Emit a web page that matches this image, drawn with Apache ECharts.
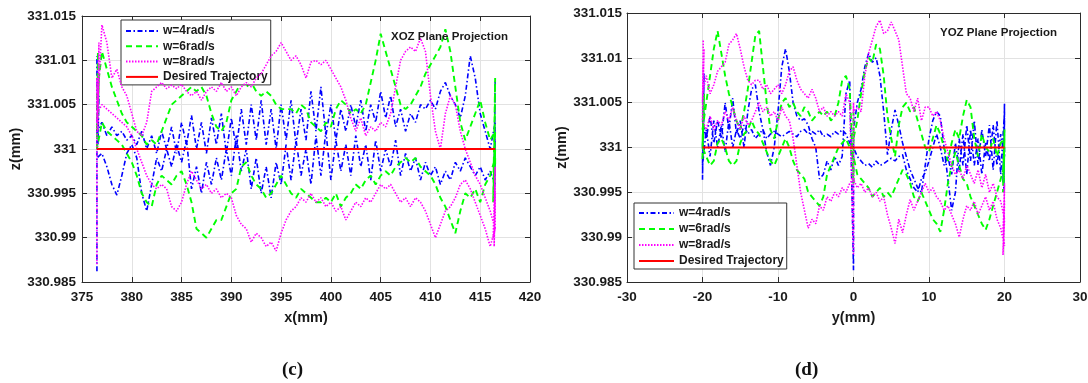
<!DOCTYPE html>
<html>
<head>
<meta charset="utf-8">
<script src="https://cdn.jsdelivr.net/npm/echarts@6.0.0/dist/echarts.min.js"></script>
<style>
html,body{margin:0;padding:0;background:#fff;}
#c{width:1088px;height:383px;}
</style>
</head>
<body>
<div id="c"></div>
<script>
// ---------------- DATA ----------------
// Desired trajectory height (mm); deviations below are read in micrometres (0.001 mm)
const Z_REF = 331;
const seriesNames = ['w=4rad/s', 'w=6rad/s', 'w=8rad/s', 'Desired Trajectory'];
const zTicks = [330.985, 330.99, 330.995, 331, 331.005, 331.01, 331.015];
const xozTicks = [375, 380, 385, 390, 395, 400, 405, 410, 415, 420];
const yozTicks = [-30, -20, -10, 0, 10, 20, 30];

// XOZ projection: sample positions along x (mm)
const xozX = [376.5,377,377.5,378,378.5,379,379.5,380,380.5,381,
 381.5,382,382.5,383,383.5,384,384.5,385,385.5,386,
 386.5,387,387.5,388,388.5,389,389.5,390,390.5,391,
 391.5,392,392.5,393,393.5,394,394.5,395,395.5,396,
 396.5,397,397.5,398,398.5,399,399.5,400,400.5,401,
 401.5,402,402.5,403,403.5,404,404.5,405,405.5,406,
 406.5,407,407.5,408,408.5,409,409.5,410,410.5,411,
 411.5,412,412.5,413,413.5,414,414.5,415,415.5,416,
 416.5];

// w=4 : outbound / return passes (deviation um)
const w4XozOut = [2,3,1.5,2.5,1.5,2,1,1.5,0.5,2,
 0,1.5,-0.5,2,0,2.5,-0.5,3,0.5,3.8,
 0,3,-0.5,3.5,0.5,4,-0.5,3.5,0,4.5,
 0.5,5,1,5.5,0.5,4.5,0,5,1,5.5,
 0.5,4.5,1,6.5,2,7,1.5,5,1,4.5,
 2,5,2.5,5.5,2,5,3,6.5,3.5,6,
 2.5,4.5,2,4,3,5,4.5,5.5,4.5,6.5,
 7.5,6,5,3.5,6,10.5,8,4,2,0,
 3];
const w4XozBack = [-1,-0.5,-2,-4,-5.2,-3,-0.5,0.5,-1,-5,
 -7,-4,-1,-2.5,0,-2,0.5,-1.5,1,-4.5,
 -2,-5,-1.5,-4,-1,-3.5,0,-3,1.5,-2.5,
 0,-4.5,-1,-5,-2,-5.5,-1.5,-4,0.5,-3.5,
 1,-3,0,-4,1.5,-3,2,-3.5,1,-2.5,
 0.5,-3,1.5,-2,0.5,-3.5,1,-2.5,0,-2,
 1,-3,-0.5,-2.5,-1,-3.5,-1.5,-3,-2,-4,
 -2.5,-3.5,-1.5,-2.5,-1,-2,-3,-2,-3.5,-2.5,
 -4];
const w4XozStartX = [376.5,376.5,376.6,376.7,376.6];
const w4XozStartD = [-13.8,10.5,0.5,6,1];
const w4XozEndX = [416.4,416.5,416.4,416.5,416.4,416.5];
const w4XozEndD = [-5,7.7,-3,1,-4.5,-1];

// w=6
const w6XozOut = [6,11,9,7,5.5,4,3,2.5,2,1.5,
 0.5,1,0.5,2,3.5,5,5.5,6,6.5,7,
 6.5,7,6,4,2.5,2,3,5.5,6.5,7.5,
 7,7.5,6.5,6,6.5,6,5,4.5,4.5,4.5,
 4,5,4.5,3,2.5,2,3,2.5,4.5,5.5,
 5,4,4.5,4,5,7.5,10,13,11,9,
 7,5,4.5,5,6,7,8.5,9.5,10.5,11.5,
 13.5,11,7,3,1,2.5,4,5.5,3,1,
 2];
const w6XozBack = [0,3,2,1.5,1,0.5,-0.5,-1.5,-3,-5,
 -6,-6.5,-4,-3,-3.5,-4,-3,-2.5,-4,-6,
 -9,-9.5,-10,-9,-8,-8,-6.5,-5,-4.5,-2,
 -1.5,-3,-4,-4.5,-5.5,-5,-4,-3,-4,-5,
 -5.5,-4.5,-5,-5.5,-6,-6,-5.5,-6,-5,-6.5,
 -5.5,-5,-4,-4.5,-3.5,-3,-4,-3,-2.5,-3,
 -2,-1.5,-1,-1.5,-1,-2,-2.5,-3,-4,-5.5,
 -6.5,-8,-9.5,-7,-5,-5.5,-4.5,-6,-4,-3,
 -1];
const w6XozStartX = [376.5,376.6,376.5,376.7,376.6];
const w6XozStartD = [0,11,2,8,4];
const w6XozEndX = [416.3,416.5,416.4,416.5,416.4,416.5];
const w6XozEndD = [-6,8,-4,0,-5,-2];

// w=8
const w8XozOut = [3,14,12,8,9,7,6,4,2,1.5,
 3,6.5,7,7.5,6.8,7.2,6.8,7.3,6.5,6,
 6.5,5.5,6.5,7,6.5,7.5,6.5,7,6,7,
 7.5,7,8,8.5,9.5,10.5,11,12,11,10,
 10.5,9.5,8,9.8,10,9.5,10,9,8,7,
 5.5,3.5,2,3.5,1.5,2.5,2,3,2.5,4,
 7,10,11,11.5,11,12.5,11,6,2,0,
 4,6,5,2,0,-1.5,-3,-4,-5.5,-7,
 -9];
const w8XozBack = [4,5,4.5,4,3.5,3,2.5,1.5,0,-1.5,
 -3,-4,-4.5,-4,-4.5,-6.5,-7,-6,-4,-2.5,
 -3.5,-4.5,-4,-5,-4.5,-5.5,-5,-5.5,-7.5,-8.5,
 -9,-10.5,-9.5,-10,-11,-10.5,-11.5,-9.5,-8,-7,
 -6.5,-5.5,-6,-5,-6,-5.5,-6.5,-6,-7,-6.5,
 -8,-7,-6,-6.5,-5.5,-6,-5,-4,-4.5,-4,
 -5,-6,-5.5,-6.5,-5.5,-6,-7,-8.5,-10,-8.5,
 -7,-6.5,-5.5,-4,-3.5,-4.5,-6,-7.5,-9,-11,
 -9];
const w8XozStartX = [376.5,376.5,376.6,376.7,376.6];
const w8XozStartD = [-13,8,2,12,5];
const w8XozEndX = [416.3,416.5,416.4,416.5,416.4,416.5];
const w8XozEndD = [-10,-2,-11,-5,-9,-4];

const refXozX = [376.5, 416.5];
const refXozD = [0, 0];

// YOZ projection: sample positions along y (mm)
const yozY = [-20,-19.5,-19,-18.5,-18,-17.5,-17,-16.5,-16,-15.5,
 -15,-14.5,-14,-13.5,-13,-12.5,-12,-11.5,-11,-10.5,
 -10,-9.5,-9,-8.5,-8,-7.5,-7,-6.5,-6,-5.5,
 -5,-4.5,-4,-3.5,-3,-2.5,-2,-1.5,-1,-0.5,
 0,0.5,1,1.5,2,2.5,3,3.5,4,4.5,
 5,5.5,6,6.5,7,7.5,8,8.5,9,9.5,
 10,10.5,11,11.5,12,12.5,13,13.5,14,14.5,
 15,15.5,16,16.5,17,17.5,18,18.5,19,19.5,
 20];

const w4YozA = [3,1,3.5,0.5,3,1,5,2,5.5,1.5,
 3,0,4,6.5,7,4,2,-0.5,-2,0,
 4,9,11,8.5,5,3.5,3,3.2,2.5,1,
 0,-3.5,-3,-1.5,-2.5,-1,-2,-1,6,7.5,
 2,5,6.5,9,10.5,9.5,10,8,4,-0.8,
 2,4.2,2.5,0.5,-1,-2.5,-3.5,-4.5,-5,-2,
 1,3,4,3.5,0,-3.5,-7,-5,1,-2,
 2.5,-1.5,3,-2,2,-1,2.5,-2.5,3,-3,
 4];
const w4YozB = [-2,2,-1,3,0,2.5,-0.5,3,0,2,
 1,2.5,1.5,2,1,1.5,2,1,1.5,1.8,
 1.5,1.2,1.5,1.8,1.5,1.2,1.8,2,1.5,1.8,
 1.5,2,1.2,1.5,1.2,1.8,1.5,2,1.5,0.5,
 0,-1,-1.5,-2,-1.8,-2.2,-1.5,-2,-1.8,-1.5,
 -1.2,-1.5,-1,-0.8,-2.5,-3.5,-4.5,-5,-3.5,-2.8,
 -1.5,0,1.5,0,-2,-1,-3,0.5,-2.5,1.5,
 -3,2,-2,1,-3,0.5,-1.5,2.5,-2,1.5,
 -1];
const w4YozSpikeY = [0,0];
const w4YozSpikeD = [-13.7,1];
const w4YozEndY = [19.9,20,19.8,20,19.9,20];
const w4YozEndD = [-5,5,-4,3,-3,0];
const w4YozBegY = [-19.8,-20,-19.9,-20,-19.8,-20];
const w4YozBegD = [8.3,-3.6,6,-2,4,0];

const w6YozA = [2,5,8,11,13,10.5,8,6,4.5,3,
 2,4,6.5,9.5,12.5,13,9,5,2,1,
 3,5,5.5,4.5,5,4,3.5,4.5,4,3,
 3.5,4,3.5,4,3,3.5,5,7.5,8,6.5,
 1,3,6,8.5,10,9.5,11.5,11,8,3.5,
 1,-1,2.5,4.5,5,4,4.5,3,1.5,0,
 -0.5,1,2.5,1.5,0,-1.5,0.5,2,1,3.5,
 5.3,4.5,1,-1,1.5,0,-0.5,1,-1,0.5,
 1];
const w6YozB = [0,-1,-2,-1.5,0.5,1,0,-1.5,-2,-1.5,
 0.5,1.5,2,3,2,1.5,0.5,-0.5,-1.5,-2,
 -1,0,1,0,-1.5,-2.5,-3,-3.5,-5,-5.5,
 -6,-6.5,-5.5,-3,-2,-1,0,0.5,1,0,
 -1,-3,-3.5,-4,-4.5,-5.5,-5,-4.5,-5.5,-5,
 -5.5,-4.5,-3.5,-2.5,-3,-4,-5.5,-6,-5,-6,
 -7,-8,-8.5,-9.4,-7,-4,-2,-0.5,-2,-3.5,
 -4,-5.5,-6.5,-7.5,-8.5,-9.2,-8,-6.5,-5,-3.5,
 -2];
const w6YozSpikeY = [0,0];
const w6YozSpikeD = [-4,4];
const w6YozEndY = [19.8,20,19.9,20,19.8];
const w6YozEndD = [-5,2,-4,1,-3];
const w6YozBegY = [-19.8,-20,-19.9,-20,-19.8];
const w6YozBegD = [6,-1.5,4,0,3];

const w8YozA = [6,8,6,7,8.5,9,9.5,11.5,12,12.7,
 11,9,7.5,7,7.5,7.5,6.5,7,6,6.5,
 7,6,7,8.5,9,7.5,6.5,6,5.5,6.5,
 5.5,4,4.5,3.5,4,3.5,4,3.5,6,5,
 4,4.5,4,8,10.5,12,13.5,14.2,12.7,13,
 14,13,12,9,6,5.5,4,5.5,3,4.5,
 4.5,3.5,4,3,1,-0.5,-2,-3,-2.5,-3.5,
 -2,-3,-4,-2.5,-4.5,-3,-5,-4,-5.5,-6,
 -8];
const w8YozB = [3,2,3.5,2,3,2.5,4,3,4.5,3,
 2,3.5,2.5,3,4,5,4,4.5,3.5,4,
 3,4.5,3.5,3,1,-2,-5,-7,-9,-8,
 -8.5,-6.5,-7,-5.5,-6,-5,-5.5,-4.5,-5,-4,
 -3.5,-4.5,-4,-5,-4.5,-5.5,-5,-6,-5.5,-7.5,
 -9,-10.7,-8,-9.5,-7.5,-5.8,-7,-6,-5,-4,
 -5,-4.5,-5.5,-6,-7,-6.5,-7.5,-8.5,-10,-8,
 -6.5,-7,-6,-7.5,-6.5,-5.5,-7,-6,-8,-9,
 -11];
const w8YozSpikeY = [0,0];
const w8YozSpikeD = [-12,5];
const w8YozEndY = [19.8,20,19.9,20,19.8];
const w8YozEndD = [-12,-4,-10,-6,-9];
const w8YozBegY = [-19.9,-20,-19.8,-20,-19.9];
const w8YozBegD = [12,3,11,5,9];

const refYozY = [-20, 20];
const refYozD = [0, 0];

// ---------------- BUILD ----------------
function pts(xs, ds) { return xs.map((x, i) => [x, Z_REF + ds[i] / 1000]); }
function xozLoop(sx, sd, out, ex, ed, back) {
  return [].concat(pts(sx, sd), pts(xozX, out), pts(ex, ed), pts(xozX, back).reverse());
}
function yozLoop(a, spY, spD, ex, ed, b, bx, bd) {
  const A = pts(yozY, a);
  const k = yozY.indexOf(0);
  return [].concat(A.slice(0, k), pts(spY, spD), A.slice(k), pts(ex, ed), pts(yozY, b).reverse(), pts(bx, bd));
}

const FONT = "'Liberation Sans', Arial, Helvetica, sans-serif";
const styles = [
  { color: '#0000ff', type: [5, 2.5, 1.5, 2.5], width: 1.6 },
  { color: '#00ff00', type: [6, 4], width: 1.9 },
  { color: '#ff00ff', type: [1.5, 1.5], width: 1.6 },
  { color: '#ff0000', type: 'solid', width: 2 }
];

const xozData = [
  xozLoop(w4XozStartX, w4XozStartD, w4XozOut, w4XozEndX, w4XozEndD, w4XozBack),
  xozLoop(w6XozStartX, w6XozStartD, w6XozOut, w6XozEndX, w6XozEndD, w6XozBack),
  xozLoop(w8XozStartX, w8XozStartD, w8XozOut, w8XozEndX, w8XozEndD, w8XozBack),
  pts(refXozX, refXozD)
];
const yozData = [
  yozLoop(w4YozA, w4YozSpikeY, w4YozSpikeD, w4YozEndY, w4YozEndD, w4YozB, w4YozBegY, w4YozBegD),
  yozLoop(w6YozA, w6YozSpikeY, w6YozSpikeD, w6YozEndY, w6YozEndD, w6YozB, w6YozBegY, w6YozBegD),
  yozLoop(w8YozA, w8YozSpikeY, w8YozSpikeD, w8YozEndY, w8YozEndD, w8YozB, w8YozBegY, w8YozBegD),
  pts(refYozY, refYozD)
];

const fmtZ = v => String(parseFloat(Number(v).toFixed(3)));
const labelStyle = { fontFamily: FONT, fontWeight: 'bold', fontSize: 13.5, color: '#1a1a1a' };
const lineC = '#2b2b2b';
const gridC = '#e2e2e2';

function xAxisMain(gi, ticks, nm) {
  return {
    type: 'value', gridIndex: gi, position: 'bottom',
    min: ticks[0], max: ticks[ticks.length - 1], interval: ticks[1] - ticks[0],
    name: nm, nameLocation: 'middle', nameGap: 28,
    nameTextStyle: { fontFamily: FONT, fontWeight: 'bold', fontSize: 14.5, color: '#1a1a1a' },
    axisLine: { show: true, onZero: false, lineStyle: { color: lineC, width: 1 } },
    axisTick: { show: true, inside: true, length: 5, lineStyle: { color: lineC } },
    axisLabel: Object.assign({ margin: 8 }, labelStyle),
    splitLine: { show: true, lineStyle: { color: gridC, width: 1 } }
  };
}
function xAxisTop(gi, ticks) {
  return {
    type: 'value', gridIndex: gi, position: 'top',
    min: ticks[0], max: ticks[ticks.length - 1], interval: ticks[1] - ticks[0],
    axisLine: { show: true, onZero: false, lineStyle: { color: lineC, width: 1 } },
    axisTick: { show: true, inside: true, length: 5, lineStyle: { color: lineC } },
    axisLabel: { show: false }, splitLine: { show: false }
  };
}
function yAxisMain(gi, gap, margin) {
  return {
    type: 'value', gridIndex: gi, position: 'left',
    min: zTicks[0], max: zTicks[zTicks.length - 1], interval: 0.005,
    name: 'z(mm)', nameLocation: 'middle', nameGap: gap, nameRotate: 90,
    nameTextStyle: { fontFamily: FONT, fontWeight: 'bold', fontSize: 14.5, color: '#1a1a1a' },
    axisLine: { show: true, onZero: false, lineStyle: { color: lineC, width: 1 } },
    axisTick: { show: true, inside: true, length: 5, lineStyle: { color: lineC } },
    axisLabel: Object.assign({ margin: margin, formatter: fmtZ }, labelStyle),
    splitLine: { show: true, lineStyle: { color: gridC, width: 1 } }
  };
}
function yAxisRight(gi) {
  return {
    type: 'value', gridIndex: gi, position: 'right',
    min: zTicks[0], max: zTicks[zTicks.length - 1], interval: 0.005,
    axisLine: { show: true, onZero: false, lineStyle: { color: lineC, width: 1 } },
    axisTick: { show: true, inside: true, length: 5, lineStyle: { color: lineC } },
    axisLabel: { show: false }, splitLine: { show: false }
  };
}

const series = [];
[xozData, yozData].forEach((dataSet, gi) => {
  dataSet.forEach((d, i) => {
    series.push({
      type: 'line', name: seriesNames[i], data: d,
      xAxisIndex: gi * 2, yAxisIndex: gi * 2,
      showSymbol: false, symbol: 'none', animation: false, silent: true,
      clip: true, z: 2 + i,
      itemStyle: { color: styles[i].color },
      lineStyle: { color: styles[i].color, type: styles[i].type, width: styles[i].width }
    });
  });
});

const legendCommon = {
  orient: 'vertical', data: seriesNames, selectedMode: false,
  backgroundColor: '#ffffff', borderColor: '#333333', borderWidth: 1, borderRadius: 0,
  itemHeight: 12,
  itemStyle: { color: 'rgba(0,0,0,0)', borderColor: 'rgba(0,0,0,0)', borderWidth: 0, opacity: 0 },
  textStyle: { fontFamily: FONT, fontWeight: 'bold', fontSize: 12, color: '#1a1a1a' }
};

const option = {
  backgroundColor: '#ffffff',
  animation: false,
  grid: [
    { left: 82, top: 16, width: 448, height: 266, containLabel: false, outerBoundsMode: 'none' },
    { left: 627, top: 13, width: 453, height: 269, containLabel: false, outerBoundsMode: 'none' }
  ],
  xAxis: [
    xAxisMain(0, xozTicks, 'x(mm)'), xAxisTop(0, xozTicks),
    xAxisMain(1, yozTicks, 'y(mm)'), xAxisTop(1, yozTicks)
  ],
  yAxis: [
    yAxisMain(0, 58, 6), yAxisRight(0),
    yAxisMain(1, 56, 5), yAxisRight(1)
  ],
  legend: [
    Object.assign({}, legendCommon, { left: 121, top: 20, itemWidth: 32, itemGap: 3.3, padding: [5, 3, 2, 4] }),
    Object.assign({}, legendCommon, { left: 634, top: 203, itemWidth: 35, itemGap: 4, padding: [4, 3, 2, 4] })
  ],
  title: [
    { text: 'XOZ Plane Projection', left: 391, top: 31, padding: 0,
      textStyle: { fontFamily: FONT, fontWeight: 'bold', fontSize: 11.5, color: '#1a1a1a' } },
    { text: 'YOZ Plane Projection', left: 940, top: 27, padding: 0,
      textStyle: { fontFamily: FONT, fontWeight: 'bold', fontSize: 11.5, color: '#1a1a1a' } },
    { text: '{p|(}{b|c}{p|)}', left: 282, top: 361, padding: 0,
      textStyle: { rich: {
        p: { fontFamily: "'Liberation Serif', 'Times New Roman', serif", fontSize: 19, color: '#111' },
        b: { fontFamily: "'Liberation Serif', 'Times New Roman', serif", fontSize: 19, fontWeight: 'bold', color: '#111' } } } },
    { text: '{p|(}{b|d}{p|)}', left: 795, top: 361, padding: 0,
      textStyle: { rich: {
        p: { fontFamily: "'Liberation Serif', 'Times New Roman', serif", fontSize: 19, color: '#111' },
        b: { fontFamily: "'Liberation Serif', 'Times New Roman', serif", fontSize: 19, fontWeight: 'bold', color: '#111' } } } }
  ],
  series: series
};

const chart = echarts.init(document.getElementById('c'), null, { renderer: 'canvas' });
chart.setOption(option);
</script>
</body>
</html>
